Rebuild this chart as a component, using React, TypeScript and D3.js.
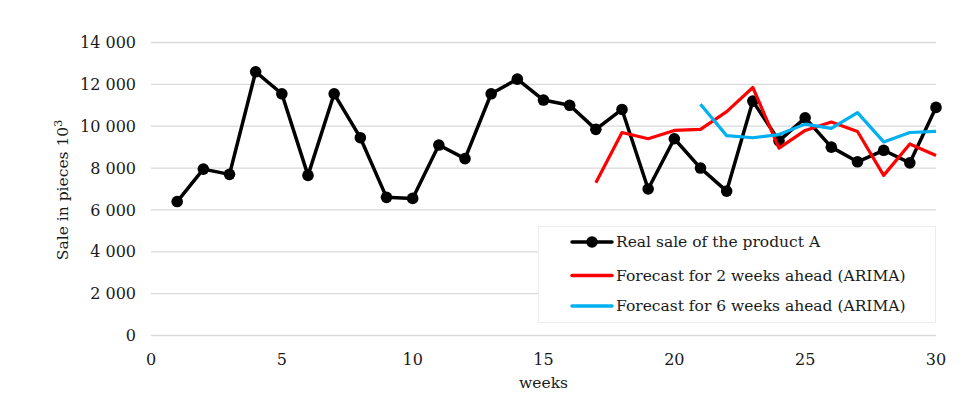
import React from "react";
import * as d3 from "d3";

const weeks = d3.range(1, 31);
const realSale = [6400, 7950, 7700, 12600, 11550, 7650, 11550, 9450, 6600, 6550, 9100, 8450, 11550, 12250, 11250, 11000, 9850, 10800, 7000, 9400, 8000, 6900, 11200, 9300, 10400, 9000, 8300, 8850, 8250, 10900];
const forecast2Weeks = d3.range(17, 31);
const forecast2 = [7300, 9700, 9400, 9800, 9850, 10700, 11850, 8950, 9800, 10200, 9750, 7650, 9150, 8600];
const forecast6Weeks = d3.range(21, 31);
const forecast6 = [11050, 9550, 9450, 9600, 10100, 9900, 10650, 9250, 9700, 9750];
const yTicks = [0, 2000, 4000, 6000, 8000, 10000, 12000, 14000];
const xTicks = [0, 5, 10, 15, 20, 25, 30];
const legendLabels = ["Real sale of the product A", "Forecast for 2 weeks ahead (ARIMA)", "Forecast for 6 weeks ahead (ARIMA)"];

const W = 975, H = 401;
const FONT = "'DejaVu Serif', serif";
const RED = "#FF0000";
const BLUE = "#00B0F0";
const TXT = "#1a1a1a";

export default function App() {
  const x = d3.scaleLinear().domain([0, 30]).range([151, 936]);
  const y = d3.scaleLinear().domain([0, 14000]).range([335.5, 42.5]);
  const line = d3.line<[number, number]>().x(d => x(d[0])).y(d => y(d[1]));
  const fmt = (v: number) => d3.format(",")(v).replace(/,/g, " ");
  const realPts = weeks.map((w, i) => [w, realSale[i]] as [number, number]);
  const f2Pts = forecast2Weeks.map((w, i) => [w, forecast2[i]] as [number, number]);
  const f6Pts = forecast6Weeks.map((w, i) => [w, forecast6[i]] as [number, number]);
  const legendY = [242, 275.5, 306];
  const colors = ["#000", RED, BLUE];
  return (
    <svg width={W} height={H} style={{ position: "absolute", left: 0, top: 0, background: "#fff" }} fontFamily={FONT}>
      <rect width={W} height={H} fill="#fff" />
      {yTicks.map(t => (
        <g key={t}>
          <line x1={x(0)} x2={x(30)} y1={y(t)} y2={y(t)} stroke="#d9d9d9" strokeWidth={1.3} />
          <text x={136} y={y(t)} dy="0.35em" textAnchor="end" fontSize={16} fill={TXT} style={{ whiteSpace: "pre" }}>{fmt(t)}</text>
        </g>
      ))}
      {xTicks.map(t => (
        <text key={t} x={x(t)} y={365} textAnchor="middle" fontSize={16} fill={TXT}>{t}</text>
      ))}
      <text x={x(15)} y={388} textAnchor="middle" fontSize={15.5} fill={TXT}>weeks</text>
      <text transform={`translate(68,${190}) rotate(-90)`} textAnchor="middle" fontSize={15.5} fill={TXT}>
        Sale in pieces 10<tspan dy={-6} fontSize={11}>3</tspan>
      </text>
      <path d={line(realPts) || ""} fill="none" stroke="#000" strokeWidth={3.5} strokeLinejoin="round" />
      {realPts.map((p, i) => (
        <circle key={i} cx={x(p[0])} cy={y(p[1])} r={5.8} fill="#000" />
      ))}
      <path d={line(f2Pts) || ""} fill="none" stroke={RED} strokeWidth={3.2} strokeLinejoin="round" />
      <path d={line(f6Pts) || ""} fill="none" stroke={BLUE} strokeWidth={3.2} strokeLinejoin="round" />
      <rect x={538.5} y={226.5} width={397} height={96} fill="#fff" stroke="#ececec" strokeWidth={1} />
      {legendLabels.map((lab, i) => (
        <g key={lab}>
          <line x1={572} x2={612} y1={legendY[i]} y2={legendY[i]} stroke={colors[i]} strokeWidth={3.5} strokeLinecap="round" />
          {i === 0 && <circle cx={592} cy={legendY[i]} r={5.8} fill="#000" />}
          <text x={616} y={legendY[i]} dy="0.35em" fontSize={15.5} fill={TXT}>{lab}</text>
        </g>
      ))}
    </svg>
  );
}
